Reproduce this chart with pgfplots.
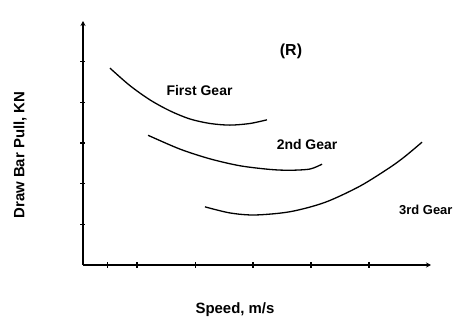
\documentclass[border=0pt]{standalone}
\usepackage{pgfplots}
\pgfplotsset{compat=1.18}
\usetikzlibrary{arrows.meta}
\usepackage{fontspec}
\setmainfont{Liberation Sans}
\begin{document}
\begin{tikzpicture}
\useasboundingbox (-83bp,-61bp) rectangle (375bp,265bp);
\begin{axis}[
  at={(0,0)}, anchor=south west,
  scale only axis, width=348bp, height=244bp,
  xmin=0, xmax=6, ymin=0, ymax=6,
  axis x line=bottom, axis y line=left,
  x axis line style={line width=1.8bp, -{Stealth[length=5bp,width=5bp]}},
  y axis line style={line width=2.8bp, -{Stealth[length=5bp,width=5bp]}},
  xtick={0.42,0.93,1.94,2.93,3.93,4.93}, ytick={1,2,3,4,5},
  xticklabels={}, yticklabels={},
  tick align=center, major tick length=5bp,
  tick style={black, line width=1.2bp},
  clip=false,
]
\addplot[black, line width=1.3bp, smooth] coordinates {
 (0.466,4.84) (0.810,4.41) (1.155,4.06) (1.500,3.79) (1.845,3.59) (2.190,3.48) (2.534,3.44) (2.879,3.48) (3.172,3.57)};
\addplot[black, line width=1.3bp, smooth] coordinates {
 (1.121,3.19) (1.672,2.85) (2.190,2.61) (2.707,2.44) (3.224,2.35) (3.569,2.33) (3.914,2.36) (4.121,2.48)};
\addplot[black, line width=1.3bp, smooth] coordinates {
 (2.103,1.43) (2.534,1.28) (2.966,1.23) (3.569,1.31) (4.172,1.54) (4.776,1.94) (5.293,2.40) (5.552,2.67) (5.845,3.02)};
\end{axis}
\node[font=\fontsize{14}{16}\selectfont\bfseries] at (116.5bp,174bp) {First Gear};
\node[font=\fontsize{14}{16}\selectfont\bfseries] at (224bp,120bp) {2nd Gear};
\node[font=\fontsize{13}{15}\selectfont\bfseries, anchor=west, inner sep=0pt] at (316bp,55bp) {3rd Gear};
\node[font=\fontsize{16}{18}\selectfont\bfseries] at (208bp,214bp) {(R)};
\node[font=\fontsize{15}{17}\selectfont\bfseries, rotate=90] at (-63bp,110bp) {Draw Bar Pull, KN};
\node[font=\fontsize{15}{17}\selectfont\bfseries] at (152bp,-45bp) {Speed, m/s};
\end{tikzpicture}
\end{document}
